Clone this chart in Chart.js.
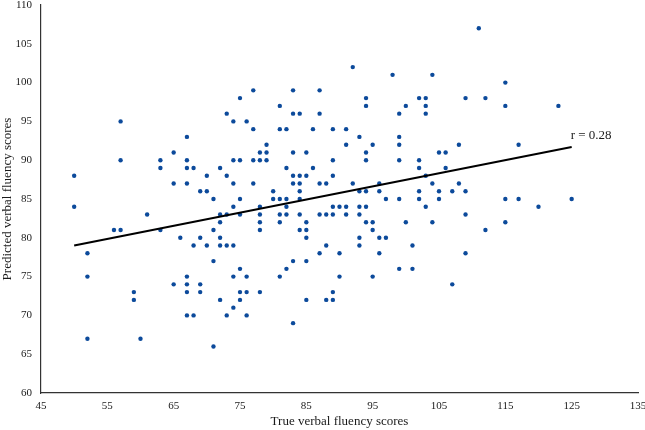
<!DOCTYPE html>
<html>
<head>
<meta charset="utf-8">
<script src="https://cdn.jsdelivr.net/npm/chart.js@4.4.1/dist/chart.umd.min.js"></script>
<style>
  html, body { margin: 0; padding: 0; background: #fff; }
  #wrap { width: 645px; height: 430px; }
</style>
</head>
<body>
<div id="wrap"><canvas id="myChart" width="645" height="430"></canvas></div>
<script>
// scatter data (true score, predicted score)
const trueScores = [
  77,75,73,74,76,77,57,67,65,78,57,63,67,74,75,77,78,63,67,68,72,50,70,73,65,67,74,77,69,70,71,75,
  50,61,56,57,63,52,52,52,60,71,59,59,66,69,68,70,72,73,74,71,72,72,73,72,74,75,78,78,78,78,71,75,74,76,65,67,67,69,67,69,75,76,78,72,75,74,67,68,73,76,
  92,98,104,83,87,94,94,102,103,103,103,100,99,81,83,84,87,81,82,86,89,91,93,99,99,91,95,79,79,83,85,94,105,106,79,89,94,99,102,82,86,102,106,83,84,85,89,103,83,84,87,88,92,96,104,80,84,93,94,96,102,105,80,81,84,97,99,102,105,
  82,82,89,90,91,93,94,103,81,82,84,87,88,89,91,93,81,85,94,95,100,104,84,85,95,85,93,96,97,88,93,101,87,90,96,83,85,82,99,101,81,90,95,107,89,85,88,89,83,
  111,115,109,112,115,123,108,117,108,107,109,115,117,125,
  120,109,115,112,109
];
const predictedScores = [
  99,98,96,95,95,94,95,93,91,91,90,90,90,90,90,90,90,89,89,89,89,88,88,88,87,87,87,87,86,86,85,85,
  84,83,81,81,81,78,75,67,67,66,73,72,80,80,79,79,79,79,79,81,80,83,83,82,84,83,84,83,82,81,77,76,75,75,74,75,74,74,73,73,73,73,73,72,72,71,70,70,70,70,
  102,101,101,99,99,98,97,98,98,97,96,97,96,97,96,96,96,94,94,94,94,94,93,93,92,92,92,92,91,91,91,91,91,91,90,90,90,90,90,89,89,89,89,88,88,88,88,88,87,87,87,87,87,87,87,86,86,86,86,86,86,86,85,85,85,85,85,85,85,
  85,84,84,84,84,84,84,84,83,83,83,83,83,83,83,83,82,82,82,82,82,82,81,81,81,80,80,80,80,79,79,79,78,78,78,77,77,76,76,76,75,75,75,74,73,72,72,72,69,
  107,100,98,98,97,97,92,92,87,86,86,85,85,85,
  84,83,82,81,78
];

// fitted line end points and label
const fitX = [50, 125];
const fitY = [79.0, 91.7];
const fitLabel = 'r = 0.28';

const points = trueScores.map(function(x, i) { return { x: x, y: predictedScores[i] }; });
const fitLine = fitX.map(function(x, i) { return { x: x, y: fitY[i] }; });

const serif = "'Liberation Serif', 'Times New Roman', serif";
const textColor = '#1a1a1a';

// label next to the end of the fitted line
const fitLabelPlugin = {
  id: 'fitLabel',
  afterDatasetsDraw: function(chart) {
    const ctx = chart.ctx;
    const xs = chart.scales.x, ys = chart.scales.y;
    ctx.save();
    ctx.font = '13px ' + serif;
    ctx.fillStyle = textColor;
    ctx.textAlign = 'left';
    ctx.textBaseline = 'middle';
    ctx.fillText(fitLabel, xs.getPixelForValue(fitX[1]) - 1, ys.getPixelForValue(fitY[1] + 1.5));
    ctx.restore();
  }
};

const config = {
  type: 'scatter',
  data: {
    datasets: [{
      label: 'scores',
      data: points,
      backgroundColor: '#0c4a9b',
      borderColor: '#0c4a9b',
      pointRadius: 2.2,
      pointBorderWidth: 0,
      order: 2
    }, {
      label: 'fit',
      data: fitLine,
      showLine: true,
      borderColor: '#000',
      borderWidth: 2,
      pointRadius: 0,
      order: 1
    }]
  },
  options: {
    responsive: false,
    animation: false,
    layout: { padding: { top: 5, right: 7, bottom: 0, left: 0 } },
    plugins: {
      legend: { display: false },
      tooltip: { enabled: false }
    },
    scales: {
      x: {
        type: 'linear',
        min: 45,
        max: 135,
        grid: { display: false, drawTicks: false },
        border: { display: true, color: '#333', width: 1.2 },
        ticks: {
          stepSize: 10,
          maxRotation: 0,
          autoSkip: false,
          padding: 7,
          color: textColor,
          font: { family: serif, size: 11 }
        },
        title: {
          display: true,
          text: 'True verbal fluency scores',
          color: textColor,
          padding: 1,
          font: { family: serif, size: 13 }
        },
        afterFit: function(scale) {
          scale.height = 37;
          scale.paddingLeft = 0;
          scale.paddingRight = 0;
        }
      },
      y: {
        min: 60,
        max: 110,
        grid: { display: false, drawTicks: false },
        border: { display: true, color: '#333', width: 1.2 },
        ticks: {
          stepSize: 5,
          padding: 9,
          color: textColor,
          font: { family: serif, size: 11 }
        },
        title: {
          display: true,
          text: 'Predicted verbal fluency scores',
          color: textColor,
          padding: 0,
          font: { family: serif, size: 13 }
        },
        afterFit: function(scale) {
          scale.width = 41;
          scale.paddingTop = 0;
          scale.paddingBottom = 0;
        }
      }
    }
  },
  plugins: [fitLabelPlugin]
};

const myChart = new Chart(document.getElementById('myChart'), config);
</script>
</body>
</html>
